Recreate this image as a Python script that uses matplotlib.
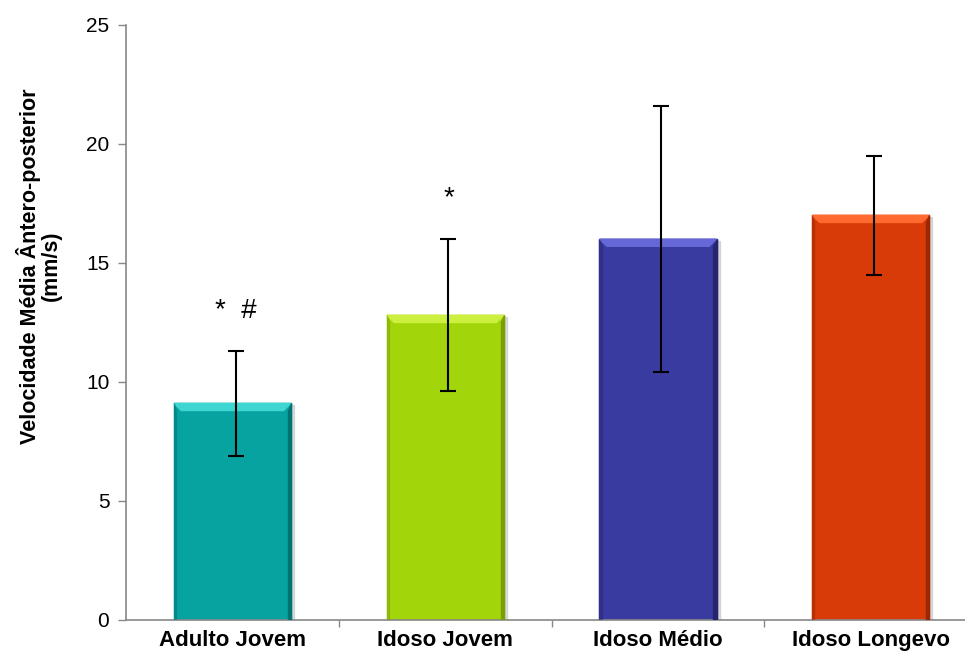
import numpy as np
import matplotlib.pyplot as plt
from matplotlib.patches import Polygon, Rectangle

plt.rcParams['font.family'] = ['Liberation Sans', 'DejaVu Sans']

groups = ['Adulto Jovem', 'Idoso Jovem', 'Idoso Médio', 'Idoso Longevo']
means = [9.1, 12.8, 16.0, 17.0]
errors = [2.2, 3.2, 5.6, 2.5]
marks = ['*  #', '*', '', '']
mark_y = [13.0, 17.7, None, None]
colors = ['#06a3a1', '#a2d60a', '#3a3ba0', '#d83a08']
tops = ['#3fd6d2', '#cdf040', '#6668d8', '#ff6a30']
sides = ['#047270', '#7a9e05', '#25266e', '#9a2804']


def bevel_bar(ax, x, h, w, base, light, dark):
    # flat face plus a lit top edge and shaded side edges
    b = 0.3
    ax.add_patch(Rectangle((x - w / 2 + 0.015, -0.08), w, h, color='#bbbbbb', alpha=0.5, zorder=1))
    ax.add_patch(Rectangle((x - w / 2, 0), w, h, color=base, zorder=2))
    dx = 0.035
    ax.add_patch(Polygon([(x - w / 2, h), (x + w / 2, h), (x + w / 2 - dx, h - b), (x - w / 2 + dx, h - b)],
                         closed=True, color=light, zorder=3))
    ax.add_patch(Polygon([(x + w / 2, h), (x + w / 2, 0), (x + w / 2 - 0.015, 0), (x + w / 2 - 0.015, h - b)],
                         closed=True, color=dark, zorder=3))
    ax.add_patch(Polygon([(x - w / 2, h), (x - w / 2, 0), (x - w / 2 + 0.01, 0), (x - w / 2 + 0.01, h - b)],
                         closed=True, color=dark, alpha=0.4, zorder=3))


fig = plt.figure(figsize=(9.65, 6.59), dpi=100)
ax = fig.add_axes([0.1306, 0.0592, 0.882, 0.903])

x = np.arange(len(groups))
w = 0.55
for i in range(len(groups)):
    bevel_bar(ax, x[i], means[i], w, colors[i], tops[i], sides[i])

ax.errorbar(x + 0.015, means, yerr=errors, fmt='none', ecolor='black', elinewidth=1.5,
            capsize=6, capthick=1.5, zorder=5)

for i in range(len(groups)):
    if marks[i]:
        ax.text(x[i] + 0.015, mark_y[i], marks[i], ha='center', va='center', fontsize=20, zorder=6)

ax.set_xlim(-0.5, len(groups) - 0.5)
ax.set_ylim(0, 25)
ax.set_yticks([0, 5, 10, 15, 20, 25])
ax.set_xticks(x)
ax.set_xticklabels(groups, fontsize=16, fontweight='bold')
ax.set_xticks(x[:-1] + 0.5, minor=True)
ax.tick_params(axis='x', which='major', length=0, pad=7)
ax.tick_params(axis='x', which='minor', length=5, color='#888888', width=1)
ax.tick_params(axis='y', length=6, color='#888888', width=1, labelsize=15, pad=6)

for s in ['top', 'right']:
    ax.spines[s].set_visible(False)
for s in ['left', 'bottom']:
    ax.spines[s].set_color('#888888')
    ax.spines[s].set_linewidth(1.2)

ax.set_ylabel('Velocidade Média Ântero-posterior\n(mm/s)', fontsize=15.5, fontweight='bold',
              linespacing=1.0)
ax.yaxis.set_label_coords(-0.075, 0.595)

fig.savefig('out.png', dpi=100)
